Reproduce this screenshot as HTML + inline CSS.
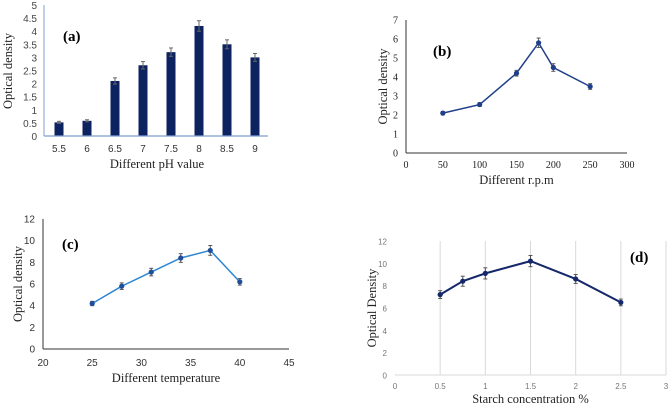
<!DOCTYPE html>
<html><head><meta charset="utf-8"><style>
body{margin:0;background:#fff;}
svg{display:block;}
.sans{font-family:"Liberation Sans",sans-serif;}
.serif{font-family:"Liberation Serif",serif;}
</style></head><body>
<svg id="s" width="669" height="405" xmlns="http://www.w3.org/2000/svg"></svg>
<script>
const phCats=["5.5","6","6.5","7","7.5","8","8.5","9"];
const phVals=[0.52,0.58,2.1,2.7,3.2,4.2,3.5,3.0];
const phErr=[0.04,0.04,0.12,0.14,0.16,0.2,0.17,0.15];
const phTicks=[0,0.5,1,1.5,2,2.5,3,3.5,4,4.5,5];
const rpmX=[50,100,150,180,200,250];
const rpmVals=[2.1,2.55,4.2,5.8,4.5,3.5];
const rpmErr=[0.08,0.1,0.15,0.25,0.2,0.15];
const rpmXTicks=[0,50,100,150,200,250,300];
const rpmYTicks=[0,1,2,3,4,5,6,7];
const tempX=[25,28,31,34,37,40];
const tempVals=[4.2,5.8,7.1,8.4,9.1,6.2];
const tempErr=[0.2,0.3,0.35,0.4,0.45,0.3];
const tempXTicks=[20,25,30,35,40,45];
const tempYTicks=[0,2,4,6,8,10,12];
const starchX=[0.5,0.75,1,1.5,2,2.5];
const starchVals=[7.2,8.4,9.1,10.2,8.6,6.5];
const starchErr=[0.35,0.45,0.5,0.5,0.4,0.3];
const starchXTicks=[0,0.5,1,1.5,2,2.5,3];
const starchYTicks=[0,2,4,6,8,10,12];

const S=document.getElementById('s');
const NS="http://www.w3.org/2000/svg";
function el(tag,attrs,parent,text){const e=document.createElementNS(NS,tag);for(const k in attrs)e.setAttribute(k,attrs[k]);if(text!==undefined)e.textContent=text;(parent||S).appendChild(e);return e;}
function lin(d0,d1,r0,r1){return v=>r0+(v-d0)/(d1-d0)*(r1-r0);}

// Panel A
(function(){
 const g=el('g',{});
 
 
 const y=lin(0,5,136,5);
 const x0=44,x1=268,step=28,first=59;
 phTicks.forEach(t=>{const tx=el('text',{x:37,y:y(t)+4,'text-anchor':'end','font-size':10,fill:'#444',class:'sans'},g,String(t));
  });
 el('line',{x1:x0,y1:5,x2:x0,y2:136,stroke:'#7f9fcf','stroke-width':1},g);
 phCats.forEach((c,i)=>{const cx=first+i*step;
  const r=el('rect',{x:cx-4.5,y:y(phVals[i]),width:9,height:136-y(phVals[i]),fill:'#0d2261'},g);
  
  const e1=y(phVals[i]+phErr[i]),e2=y(phVals[i]-phErr[i]);
  el('line',{x1:cx,x2:cx,y1:e1,y2:e2,stroke:'#666','stroke-width':1},g);
  el('line',{x1:cx-2,x2:cx+2,y1:e1,y2:e1,stroke:'#666'},g);
  el('line',{x1:cx-2,x2:cx+2,y1:e2,y2:e2,stroke:'#666'},g);
  const t=el('text',{x:cx,y:152,'text-anchor':'middle','font-size':10,fill:'#333',class:'sans'},g,c);
  });
 el('line',{x1:x0,y1:136,x2:x1,y2:136,stroke:'#7f9fcf','stroke-width':1.2},g);
 const xt=el('text',{x:157,y:168,'text-anchor':'middle','font-size':12.5,fill:'#222',class:'serif'},g,'Different pH value');
 
 const yt=el('text',{x:0,y:0,transform:'translate(12,71) rotate(-90)','text-anchor':'middle','font-size':12.5,fill:'#222',class:'serif'},g,'Optical density');
 
 const lb=el('text',{x:63,y:41,'font-size':15,'font-weight':'bold',fill:'#000',class:'serif'},g,'(a)');
 
})();

function linePanel(o){
 const g=el('g',{});
 
 
 const x=lin(o.xd[0],o.xd[1],o.xr[0],o.xr[1]),y=lin(o.yd[0],o.yd[1],o.yr[0],o.yr[1]);
 if(o.grid){o.xt.forEach(t=>{if(t>0)el('line',{x1:x(t),x2:x(t),y1:o.yr[1],y2:o.yr[0],stroke:'#d9d9d9','stroke-width':1},g);});}
 o.yt.forEach(t=>{const tx=el('text',{x:o.xr[0]-8,y:y(t)+3.5,'text-anchor':'end','font-size':o.tfs,fill:o.tcol,class:o.tfont},g,String(t));
  });
 o.xt.forEach(t=>{const tx=el('text',{x:x(t),y:o.xly,'text-anchor':'middle','font-size':o.tfs,fill:o.tcol,class:o.tfont},g,String(t));
  });
 if(!o.grid)el('line',{x1:o.xr[0],y1:o.yr[1],x2:o.xr[0],y2:o.yr[0],stroke:'#333','stroke-width':1},g);
 el('line',{x1:o.xr[0],y1:o.yr[0],x2:o.xr[1],y2:o.yr[0],stroke:o.grid?'#d9d9d9':'#333','stroke-width':1},g);
 const pts=o.xs.map((v,i)=>x(v)+','+y(o.vals[i])).join(' ');
 const pl=el('polyline',{points:pts,fill:'none',stroke:o.col,'stroke-width':o.lw},g);
 
 o.xs.forEach((v,i)=>{const cx=x(v),cy=y(o.vals[i]);
  const e1=y(o.vals[i]+o.err[i]),e2=y(o.vals[i]-o.err[i]);
  el('line',{x1:cx,x2:cx,y1:e1,y2:e2,stroke:'#555'},g);
  el('line',{x1:cx-2,x2:cx+2,y1:e1,y2:e1,stroke:'#555'},g);
  el('line',{x1:cx-2,x2:cx+2,y1:e2,y2:e2,stroke:'#555'},g);
  const p=el('circle',{cx:cx,cy:cy,r:2.6,fill:o.mcol},g);
  });
 const xt=el('text',{x:(o.xr[0]+o.xr[1])/2,y:o.tty,'text-anchor':'middle','font-size':12.5,fill:'#222',class:'serif'},g,o.xtitle);
 
 const yt=el('text',{x:0,y:0,transform:'translate('+o.ylx+','+(o.yr[0]+o.yr[1])/2+') rotate(-90)','text-anchor':'middle','font-size':12.5,fill:'#222',class:'serif'},g,o.ytitle);
 
 const lb=el('text',{x:o.lab[0],y:o.lab[1],'font-size':15,'font-weight':'bold',fill:'#000',class:'serif'},g,o.label);
 
}
linePanel({name:'panel-b',xd:[0,300],xr:[406,627],yd:[0,7],yr:[153,20],xt:rpmXTicks,yt:rpmYTicks,xs:rpmX,vals:rpmVals,err:rpmErr,
 col:'#1f3f8a',mcol:'#1f3f8a',lw:1.5,tfs:10,tcol:'#222',tfont:'serif',xly:168,tty:184,xtitle:'Different r.p.m',ytitle:'Optical density',ylx:387,lab:[433,56],label:'(b)'});
linePanel({name:'panel-c',xd:[20,45],xr:[43,289],yd:[0,12],yr:[349,219],xt:tempXTicks,yt:tempYTicks,xs:tempX,vals:tempVals,err:tempErr,
 col:'#2e86d1',mcol:'#1f4e9a',lw:1.5,tfs:10,tcol:'#333',tfont:'sans',xly:366,tty:382,xtitle:'Different temperature',ytitle:'Optical density',ylx:22,lab:[62,249],label:'(c)'});
linePanel({name:'panel-d',xd:[0,3],xr:[395,666],yd:[0,12],yr:[375,241],xt:starchXTicks,yt:starchYTicks,xs:starchX,vals:starchVals,err:starchErr,grid:true,
 col:'#14286a',mcol:'#14286a',lw:2,tfs:8,tcol:'#777',tfont:'sans',xly:389,tty:403,xtitle:'Starch concentration %',ytitle:'Optical Density',ylx:376,lab:[630,262],label:'(d)'});
</script>
</body></html>
